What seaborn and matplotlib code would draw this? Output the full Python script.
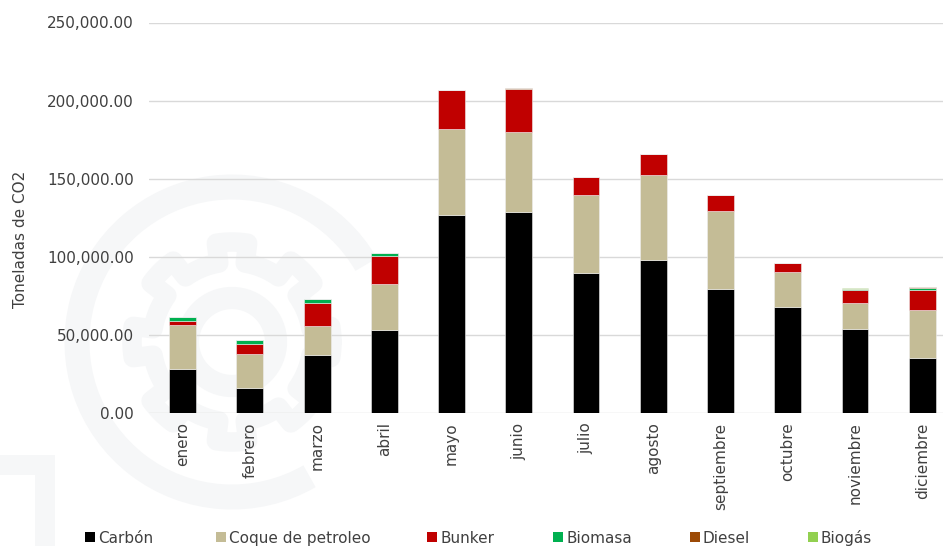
import numpy as np
import pandas as pd
import matplotlib
matplotlib.use("Agg")
import matplotlib.pyplot as plt
from matplotlib.patches import Rectangle, Polygon, Circle, Arc
from matplotlib.ticker import FuncFormatter
import seaborn as sns

# Monthly CO2 emissions (tonnes) by fuel
meses = ["enero", "febrero", "marzo", "abril", "mayo", "junio", "julio",
         "agosto", "septiembre", "octubre", "noviembre", "diciembre"]
carbon = [27800, 15600, 37200, 52800, 126700, 128800, 89500, 98100, 79100, 67600, 53800, 35300]
coque = [28500, 21800, 18600, 29900, 54900, 50900, 50200, 54000, 50200, 22600, 16300, 30500]
bunker = [2200, 6600, 14500, 17500, 25000, 27800, 11400, 13700, 10100, 6000, 8700, 12800]
biomasa = [2600, 2600, 2300, 2200, 0, 0, 0, 0, 0, 0, 300, 1600]
diesel = [0, 0, 0, 0, 0, 300, 0, 0, 0, 0, 0, 500]
biogas = [0, 0, 0, 0, 400, 0, 0, 0, 0, 0, 700, 0]

series = ["Carbón", "Coque de petroleo", "Bunker", "Biomasa", "Diesel", "Biogás"]
valores = [carbon, coque, bunker, biomasa, diesel, biogas]
colores = ["#000000", "#c4bc96", "#c00000", "#00b050", "#9c4a06", "#92d050"]

sns.set_theme(style="white")
plt.rcParams["font.family"] = ["DejaVu Sans"]
texto = "#404040"

fig = plt.figure(figsize=(9.43, 5.46), dpi=100)

# faint gear watermark in the background
bg = fig.add_axes([0, 0, 1, 1], zorder=0)
bg.set_xlim(0, 943)
bg.set_ylim(546, 0)
bg.set_aspect("equal")
bg.axis("off")
wm = "#f6f7f8"
cx, cy = 232, 342
th = np.linspace(0, 2 * np.pi, 721)
rr = np.where(np.cos(8 * th) > 0.25, 100, 80)
gx, gy = cx + rr * np.cos(th), cy + rr * np.sin(th)
bg.plot(gx, gy, color=wm, lw=14, solid_joinstyle="round", zorder=0)
bg.add_patch(Circle((cx, cy), 44, fill=False, ec=wm, lw=16, zorder=0))
bg.add_patch(Arc((cx, cy), 310, 310, theta1=60, theta2=-30 + 360, ec=wm, lw=18, zorder=0))
bg.add_patch(Polygon([[0, 455], [55, 455], [55, 546], [35, 546], [35, 475], [0, 475]],
                     closed=True, fc=wm, ec="none", zorder=0))

ax = fig.add_axes([149 / 943, 1 - 412.7 / 546, 806.8 / 943, 390.2 / 546], zorder=1)
ax.set_facecolor("none")

df = pd.DataFrame({"mes": meses})
base = np.zeros(len(meses))
for nombre, vals, col in zip(series, valores, colores):
    df[nombre] = vals
    sns.barplot(data=df, x="mes", y=nombre, color=col, bottom=base, width=0.4,
                edgecolor="#eeeeee", linewidth=0.4, ax=ax, zorder=3, saturation=1)
    base = base + np.array(vals)

ax.set_ylim(0, 250000)
ax.set_xlim(-0.5, 11.5)
ax.set_yticks(np.arange(0, 250001, 50000))
ax.yaxis.set_major_formatter(FuncFormatter(lambda v, p: f"{v:,.2f}"))
ax.grid(axis="y", color="#d9d9d9", lw=1, zorder=0)
ax.grid(axis="x", visible=False)
for s in ax.spines.values():
    s.set_visible(False)
ax.tick_params(axis="y", length=0, pad=11, labelsize=11, labelcolor=texto)
ax.tick_params(axis="x", length=0, pad=7, labelsize=11, labelcolor=texto, rotation=90)
ax.set_xlabel("")
ax.set_ylabel("Toneladas de CO2", fontsize=11, color=texto)
ax.yaxis.set_label_coords(-0.150, 0.445)

# legend row along the bottom
ly = 1 - 537 / 546
lx = [85, 216, 427, 553, 690, 808]
for x0, nombre, col in zip(lx, series, colores):
    fig.patches.append(Rectangle((x0 / 943, ly - 5 / 546), 10 / 943, 10 / 546,
                                 transform=fig.transFigure, fc=col, ec="none"))
    fig.text((x0 + 13) / 943, ly, nombre, fontsize=11, color=texto,
             va="center_baseline", ha="left")

fig.savefig("out.png", dpi=100)
